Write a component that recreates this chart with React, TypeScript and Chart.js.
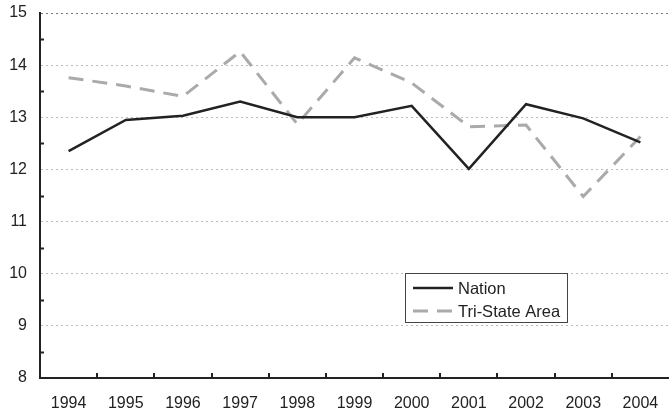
import React, { useEffect, useRef } from "react";
import { Chart, registerables } from "chart.js";

Chart.register(...registerables);

const years = ["1994", "1995", "1996", "1997", "1998", "1999", "2000", "2001", "2002", "2003", "2004"];
const nation = [12.35, 12.95, 13.03, 13.3, 13.0, 13.0, 13.22, 12.01, 13.25, 12.98, 12.52];
const triState = [13.76, 13.6, 13.4, 14.26, 12.87, 14.14, 13.66, 12.82, 12.85, 11.48, 12.63];
const yMin = 8;
const yMax = 15;

const FONT = "'Liberation Sans', Arial, sans-serif";

const minorTicks = {
  id: "minorTicks",
  afterDatasetsDraw(chart: any) {
    const ctx = chart.ctx;
    const y = chart.scales.y;
    const x = chart.scales.x;
    const area = chart.chartArea;
    ctx.save();
    ctx.strokeStyle = "#222";
    ctx.lineWidth = 2;
    ctx.beginPath();
    for (let v = yMin + 0.5; v < yMax; v += 1) {
      const py = Math.round(y.getPixelForValue(v)) + 0.5;
      ctx.moveTo(area.left, py);
      ctx.lineTo(area.left + 4, py);
    }
    for (let i = 1; i < years.length; i++) {
      const px = Math.round((x.getPixelForValue(i - 1) + x.getPixelForValue(i)) / 2);
      ctx.moveTo(px, area.bottom);
      ctx.lineTo(px, area.bottom - 5);
    }
    ctx.stroke();
    ctx.restore();
  },
};

const boxLegend = {
  id: "boxLegend",
  afterDraw(chart: any) {
    const ctx = chart.ctx;
    const left = 405.5;
    const top = 273.5;
    const w = 162;
    const h = 49;
    ctx.save();
    ctx.fillStyle = "#fff";
    ctx.fillRect(left, top, w, h);
    ctx.strokeStyle = "#444";
    ctx.lineWidth = 1;
    ctx.strokeRect(left, top, w, h);
    const rows = [288, 311];
    chart.data.datasets.forEach((ds: any, i: number) => {
      const yy = rows[i];
      ctx.beginPath();
      ctx.strokeStyle = ds.borderColor;
      ctx.lineWidth = ds.borderWidth;
      ctx.setLineDash(ds.borderDash || []);
      ctx.moveTo(413, yy);
      ctx.lineTo(453, yy);
      ctx.stroke();
      ctx.setLineDash([]);
      ctx.fillStyle = "#222";
      ctx.font = `16.5px ${FONT}`;
      ctx.textBaseline = "middle";
      ctx.textAlign = "left";
      ctx.fillText(ds.label, 458, yy + 1);
    });
    ctx.restore();
  },
};

export default function App() {
  const ref = useRef<HTMLCanvasElement | null>(null);
  useEffect(() => {
    if (!ref.current) return;
    const chart = new Chart(ref.current, {
      type: "line",
      data: {
        labels: years,
        datasets: [
          {
            label: "Nation",
            data: nation,
            borderColor: "#222222",
            borderWidth: 2.5,
            pointRadius: 0,
            tension: 0,
            fill: false,
          },
          {
            label: "Tri-State Area",
            data: triState,
            borderColor: "#aaaaaa",
            borderWidth: 3,
            borderDash: [15, 9],
            pointRadius: 0,
            tension: 0,
            fill: false,
          },
        ],
      },
      options: {
        animation: false,
        responsive: false,
        maintainAspectRatio: false,
        layout: { padding: { top: 13, right: 0, left: 0, bottom: 0 } },
        plugins: { legend: { display: false }, tooltip: { enabled: false } },
        scales: {
          x: {
            offset: true,
            grid: { display: false, drawTicks: false },
            border: { display: true, color: "#222", width: 2 },
            ticks: {
              color: "#222",
              font: { family: FONT, size: 16 },
              padding: 16,
              maxRotation: 0,
            },
            afterFit(scale: any) {
              scale.height = 38;
              scale.paddingLeft = 0;
              scale.paddingRight = 0;
            },
          },
          y: {
            min: yMin,
            max: yMax,
            grid: {
              drawTicks: false,
              color: (c: any) => (c.tick && c.tick.value === yMax ? "#777" : c.tick && c.tick.value === yMin ? "rgba(0,0,0,0)" : "#bbb"),
              lineWidth: 1,
            },
            border: { display: true, color: "#222", width: 2, dash: [2, 3] },
            ticks: {
              stepSize: 1,
              color: "#222",
              font: { family: FONT, size: 16 },
              padding: 13,
            },
            afterFit(scale: any) {
              scale.width = 40;
              scale.paddingTop = 0;
              scale.paddingBottom = 0;
            },
          },
        },
      },
      plugins: [minorTicks, boxLegend],
    });
    return () => chart.destroy();
  }, []);
  return (
    <div style={{ position: "fixed", left: 0, top: 0, width: 669, height: 416, background: "#fff" }}>
      <canvas ref={ref} width={669} height={416} />
    </div>
  );
}
